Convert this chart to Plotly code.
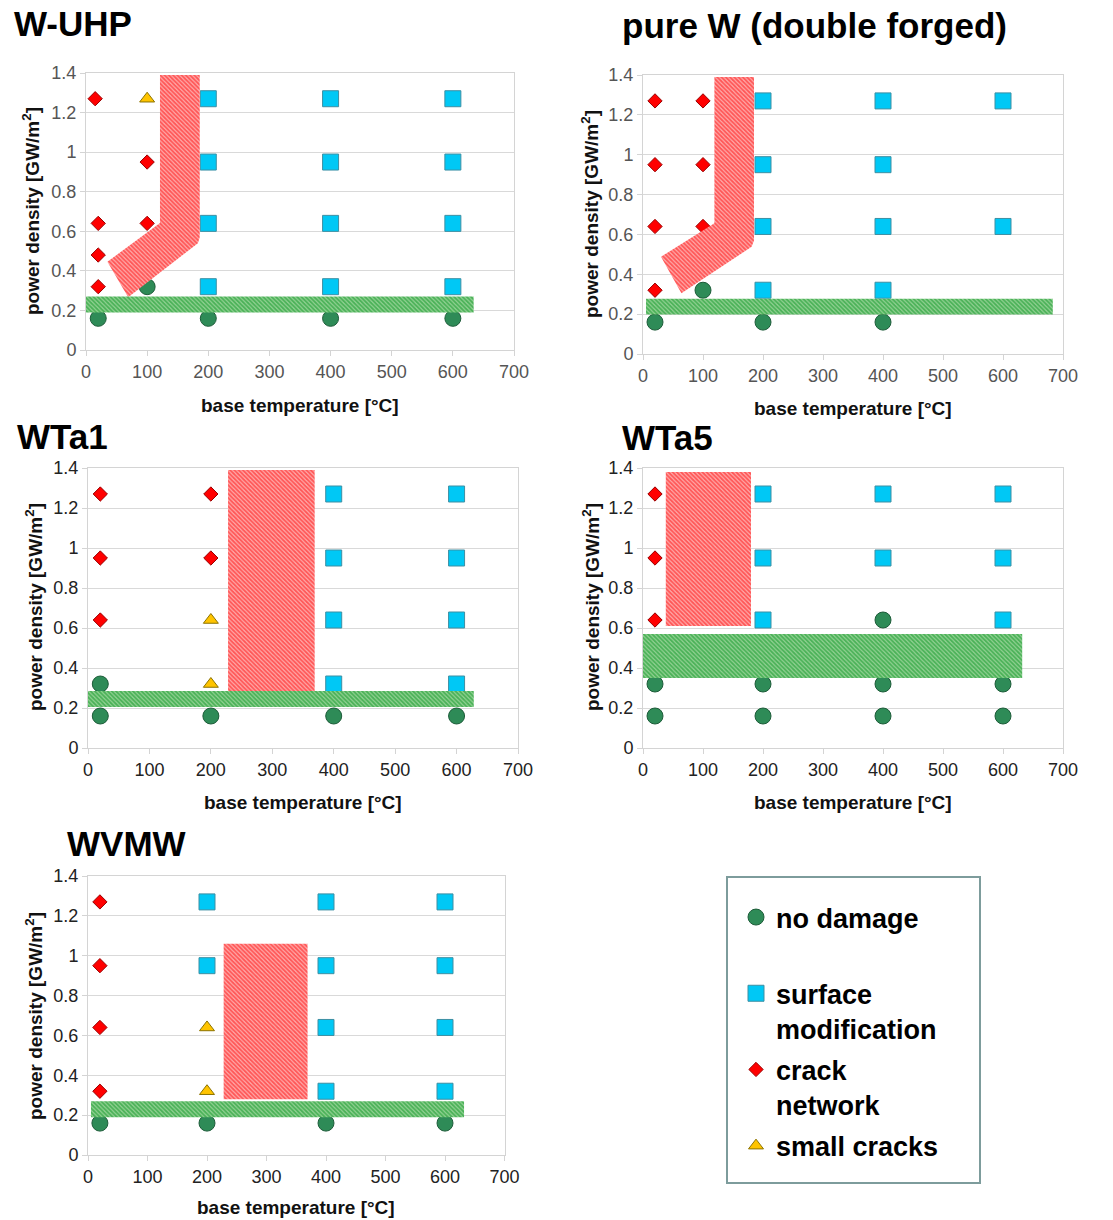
import plotly.graph_objects as go

FONT = "Liberation Sans, Arial, Helvetica, sans-serif"

# ---------------- data ----------------
panel_titles = ["W-UHP", "pure W (double forged)", "WTa1", "WTa5", "WVMW"]
cat_names = ["no damage", "surface<br>modification", "crack<br>network", "small cracks"]

# W-UHP
uhp_nd_x = [100, 20, 200, 400, 600]
uhp_nd_y = [0.32, 0.16, 0.16, 0.16, 0.16]
uhp_sm_x = [200, 400, 600, 200, 400, 600, 200, 400, 600, 200, 400, 600]
uhp_sm_y = [1.27, 1.27, 1.27, 0.95, 0.95, 0.95, 0.64, 0.64, 0.64, 0.32, 0.32, 0.32]
uhp_cn_x = [15, 20, 20, 20, 100, 100]
uhp_cn_y = [1.27, 0.64, 0.48, 0.32, 0.95, 0.64]
uhp_sc_x = [100]
uhp_sc_y = [1.27]

# pure W (double forged)
pw_nd_x = [100, 20, 200, 400]
pw_nd_y = [0.32, 0.16, 0.16, 0.16]
pw_sm_x = [200, 400, 600, 200, 400, 200, 400, 600, 200, 400]
pw_sm_y = [1.27, 1.27, 1.27, 0.95, 0.95, 0.64, 0.64, 0.64, 0.32, 0.32]
pw_cn_x = [20, 100, 20, 100, 20, 100, 20]
pw_cn_y = [1.27, 1.27, 0.95, 0.95, 0.64, 0.64, 0.32]
pw_sc_x = []
pw_sc_y = []

# WTa1
ta1_nd_x = [20, 20, 200, 400, 600]
ta1_nd_y = [0.32, 0.16, 0.16, 0.16, 0.16]
ta1_sm_x = [400, 600, 400, 600, 400, 600, 400, 600]
ta1_sm_y = [1.27, 1.27, 0.95, 0.95, 0.64, 0.64, 0.32, 0.32]
ta1_cn_x = [20, 200, 20, 200, 20]
ta1_cn_y = [1.27, 1.27, 0.95, 0.95, 0.64]
ta1_sc_x = [200, 200]
ta1_sc_y = [0.64, 0.32]

# WTa5
ta5_nd_x = [400, 20, 200, 400, 600, 20, 200, 400, 600]
ta5_nd_y = [0.64, 0.32, 0.32, 0.32, 0.32, 0.16, 0.16, 0.16, 0.16]
ta5_sm_x = [200, 400, 600, 200, 400, 600, 200, 600]
ta5_sm_y = [1.27, 1.27, 1.27, 0.95, 0.95, 0.95, 0.64, 0.64]
ta5_cn_x = [20, 20, 20]
ta5_cn_y = [1.27, 0.95, 0.64]
ta5_sc_x = []
ta5_sc_y = []

# WVMW
vm_nd_x = [20, 200, 400, 600]
vm_nd_y = [0.16, 0.16, 0.16, 0.16]
vm_sm_x = [200, 400, 600, 200, 400, 600, 400, 600, 400, 600]
vm_sm_y = [1.27, 1.27, 1.27, 0.95, 0.95, 0.95, 0.64, 0.64, 0.32, 0.32]
vm_cn_x = [20, 20, 20, 20]
vm_cn_y = [1.27, 0.95, 0.64, 0.32]
vm_sc_x = [200, 200]
vm_sc_y = [0.64, 0.32]

# cracking-threshold regions (red) and damage-threshold bands (green)
uhp_red_x = [121, 186, 186, 183, 69, 35, 121]
uhp_red_y = [1.39, 1.39, 0.57, 0.54, 0.266, 0.446, 0.642]
uhp_green_x = [0, 634, 634, 0]
uhp_green_y = [0.19, 0.19, 0.27, 0.27]

pw_red_x = [119, 185, 185, 181, 64, 30, 119]
pw_red_y = [1.39, 1.39, 0.57, 0.538, 0.305, 0.488, 0.656]
pw_green_x = [5, 683, 683, 5]
pw_green_y = [0.198, 0.198, 0.277, 0.277]

ta1_red_x = [228, 369, 369, 228]
ta1_red_y = [0.285, 0.285, 1.39, 1.39]
ta1_green_x = [0, 628, 628, 0]
ta1_green_y = [0.205, 0.205, 0.285, 0.285]

ta5_red_x = [38, 180, 180, 38]
ta5_red_y = [0.61, 0.61, 1.38, 1.38]
ta5_green_x = [0, 632, 632, 0]
ta5_green_y = [0.35, 0.35, 0.57, 0.57]

vm_red_x = [228, 369, 369, 228]
vm_red_y = [0.28, 0.28, 1.06, 1.06]
vm_green_x = [5, 632, 632, 5]
vm_green_y = [0.19, 0.19, 0.27, 0.27]

x_ticks = [0, 100, 200, 300, 400, 500, 600, 700]
y_ticks = [0, 0.2, 0.4, 0.6, 0.8, 1.0, 1.2, 1.4]

# ---------------- styling ----------------
W, H = 1113, 1220


def px(x):
    return x / W


def py(y):
    return 1 - y / H


# plot areas in window pixels: (left, right, top, bottom)
areas = [(86, 514, 73, 350), (643, 1063, 75, 354), (88, 518, 468, 748),
         (643, 1063, 468, 748), (88, 504.5, 876, 1155)]
title_pos = [(12, 24), (620, 26), (15, 436), (620, 437), (65, 844)]
ytitle_pos = [(31, 211), (590, 214), (34, 607), (591, 607), (34, 1016)]
xtitle_pos = [(300, 405), (853, 408), (303, 802), (853, 802), (296, 1207)]
tick_colors = ["#555555", "#555555", "#222222", "#222222", "#222222"]

marker_styles = [
    dict(symbol="circle", size=16, color="#2e8b57", line=dict(color="#1d5c39", width=1)),
    dict(symbol="square", size=16, color="#00c8f5", line=dict(color="#3d8fa3", width=1)),
    dict(symbol="diamond", size=11, color="#ff0000", line=dict(color="#9a0000", width=1)),
    dict(symbol="triangle-up", size=13, color="#ffc400", line=dict(color="#8c7300", width=1)),
]

panels = [
    [(uhp_nd_x, uhp_nd_y), (uhp_sm_x, uhp_sm_y), (uhp_cn_x, uhp_cn_y), (uhp_sc_x, uhp_sc_y)],
    [(pw_nd_x, pw_nd_y), (pw_sm_x, pw_sm_y), (pw_cn_x, pw_cn_y), (pw_sc_x, pw_sc_y)],
    [(ta1_nd_x, ta1_nd_y), (ta1_sm_x, ta1_sm_y), (ta1_cn_x, ta1_cn_y), (ta1_sc_x, ta1_sc_y)],
    [(ta5_nd_x, ta5_nd_y), (ta5_sm_x, ta5_sm_y), (ta5_cn_x, ta5_cn_y), (ta5_sc_x, ta5_sc_y)],
    [(vm_nd_x, vm_nd_y), (vm_sm_x, vm_sm_y), (vm_cn_x, vm_cn_y), (vm_sc_x, vm_sc_y)],
]
bands = [
    ((uhp_red_x, uhp_red_y), (uhp_green_x, uhp_green_y)),
    ((pw_red_x, pw_red_y), (pw_green_x, pw_green_y)),
    ((ta1_red_x, ta1_red_y), (ta1_green_x, ta1_green_y)),
    ((ta5_red_x, ta5_red_y), (ta5_green_x, ta5_green_y)),
    ((vm_red_x, vm_red_y), (vm_green_x, vm_green_y)),
]

fig = go.Figure()

for i, (pdata, band) in enumerate(zip(panels, bands)):
    ax = "" if i == 0 else str(i + 1)
    xa, ya = "x" + ax, "y" + ax
    for c, (xs, ys) in enumerate(pdata):
        fig.add_trace(go.Scatter(
            x=xs, y=ys, mode="markers", xaxis=xa, yaxis=ya,
            name=cat_names[c] + ("<br>&nbsp;" if c == 0 else ""),
            legendgroup=str(c), showlegend=(i == 0),
            marker=marker_styles[c], cliponaxis=False, hoverinfo="x+y"))
    (rx, ry), (gx, gy) = band
    fig.add_trace(go.Scatter(
        x=rx, y=ry, mode="lines", fill="toself", xaxis=xa, yaxis=ya,
        line=dict(width=0, color="rgba(0,0,0,0)"), showlegend=False, hoverinfo="skip",
        fillcolor="#ff8a8a",
        fillpattern=dict(shape="\\", fgcolor="#ff0000", bgcolor="#ffacac", size=3, solidity=0.6)))
    fig.add_trace(go.Scatter(
        x=gx, y=gy, mode="lines", fill="toself", xaxis=xa, yaxis=ya,
        line=dict(width=0, color="rgba(0,0,0,0)"), showlegend=False, hoverinfo="skip",
        fillcolor="#5ab85a",
        fillpattern=dict(shape="\\", fgcolor="#00901a", bgcolor="#94d294", size=3, solidity=0.6)))

layout = dict(
    width=W, height=H, margin=dict(l=0, r=0, t=0, b=0, autoexpand=False),
    paper_bgcolor="white", plot_bgcolor="white",
    font=dict(family=FONT, color="#000000"),
    showlegend=True,
    legend=dict(x=px(736), y=py(893), xanchor="left", yanchor="top",
                bgcolor="rgba(0,0,0,0)", borderwidth=0, tracegroupgap=3,
                valign="top", font=dict(family=FONT, size=27, color="#000000", weight="bold")),
)
annotations = []
shapes = []
for i, (l, r, t, b) in enumerate(areas):
    ax = "" if i == 0 else str(i + 1)
    layout["xaxis" + ax] = dict(
        domain=[px(l), px(r)], range=[0, 700], anchor="y" + ax,
        tickvals=x_ticks, showgrid=False, zeroline=False,
        showline=True, mirror=True, linecolor="#d4d4d4", linewidth=1,
        ticks="outside", ticklen=5, tickcolor="#d4d4d4", automargin=False,
        tickfont=dict(family=FONT, size=18, color=tick_colors[i]), fixedrange=True)
    layout["yaxis" + ax] = dict(
        domain=[py(b), py(t)], range=[0, 1.4], anchor="x" + ax,
        tickvals=y_ticks, showgrid=True, gridcolor="#d9d9d9", gridwidth=1, zeroline=False,
        showline=True, mirror=True, linecolor="#d4d4d4", linewidth=1,
        ticks="outside", ticklen=5, tickcolor="#d4d4d4", automargin=False,
        tickfont=dict(family=FONT, size=18, color=tick_colors[i]), fixedrange=True)
    tx, ty = title_pos[i]
    annotations.append(dict(text="<b>%s</b>" % panel_titles[i], xref="paper", yref="paper",
                            x=px(tx), y=py(ty), xanchor="left", yanchor="middle",
                            showarrow=False, font=dict(family=FONT, size=35, color="#000")))
    yx, yy = ytitle_pos[i]
    annotations.append(dict(text="<b>power density [GW/m<sup>2</sup>]</b>", xref="paper", yref="paper",
                            x=px(yx), y=py(yy), xanchor="center", yanchor="middle",
                            textangle=-90, showarrow=False,
                            font=dict(family=FONT, size=19, color="#111")))
    xx, xy = xtitle_pos[i]
    annotations.append(dict(text="<b>base temperature [°C]</b>", xref="paper", yref="paper",
                            x=px(xx), y=py(xy), xanchor="center", yanchor="middle",
                            showarrow=False, font=dict(family=FONT, size=19, color="#111")))

shapes.append(dict(type="rect", xref="paper", yref="paper",
                   x0=px(727), x1=px(980), y0=py(1183), y1=py(877),
                   line=dict(color="#7d9c9c", width=2), fillcolor="rgba(0,0,0,0)"))
layout["annotations"] = annotations
layout["shapes"] = shapes
fig.update_layout(**layout)

fig.write_html(
    "out.html",
    config={"displayModeBar": False, "staticPlot": False},
    post_script="document.body.style.margin='0';document.body.style.padding='0';"
                "document.documentElement.style.overflow='hidden';",
)
